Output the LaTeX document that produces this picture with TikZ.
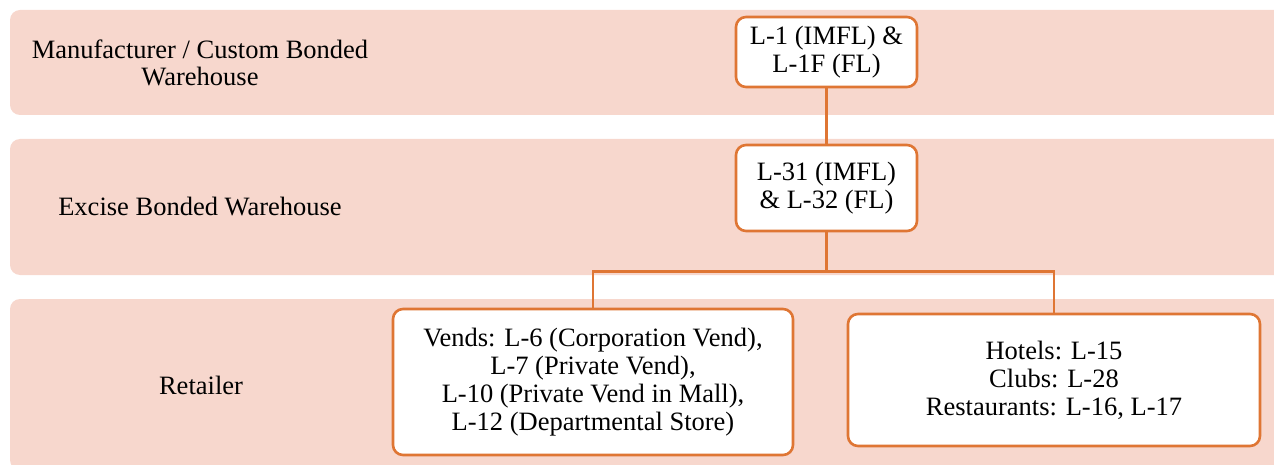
\documentclass[tikz,border=0pt]{standalone}
\usepackage{fontspec}
\setmainfont{Liberation Serif}
\definecolor{bandfill}{HTML}{F7D7CD}
\definecolor{boxline}{HTML}{DF7634}
\begin{document}
\begin{tikzpicture}[x=1pt,y=-1pt,
  band/.style={fill=bandfill,rounded corners=10pt},
  lbl/.style={align=center,font=\fontsize{26.5}{27}\selectfont,inner sep=0pt},
  lic/.style={draw=boxline,line width=2.6pt,fill=white,rounded corners=10pt,align=center,
    font=\fontsize{26.5}{28}\selectfont,inner sep=0pt},
  conn/.style={draw=boxline,line width=2.6pt}]
\useasboundingbox (0,0) rectangle (1274,465);
\fill[band] (10,10) rectangle (1290,115);
\fill[band] (10,139) rectangle (1290,275);
\fill[band] (10,299) rectangle (1290,470);
\node[lbl] (t1) at (200,63) {Manufacturer / Custom Bonded\\Warehouse};
\node[lbl] (t2) at (200,207) {Excise Bonded Warehouse};
\node[lbl] (t3) at (201,385) {Retailer};
\node[lic,minimum width=181pt,minimum height=70pt] (b1) at (826.5,52) {L-1 (IMFL) \&\\L-1F (FL)};
\node[lic,minimum width=181pt,minimum height=86pt] (b2) at (826.5,188) {L-31 (IMFL)\\\& L-32 (FL)};
\node[lic,minimum width=400pt,minimum height=146pt] (b3) at (593,382) {Vends: L-6 (Corporation Vend),\\L-7 (Private Vend),\\L-10 (Private Vend in Mall),\\L-12 (Departmental Store)};
\node[lic,minimum width=412pt,minimum height=132pt] (b4) at (1054,380) {Hotels: L-15\\Clubs: L-28\\Restaurants: L-16, L-17};
\coordinate (j) at (826.5,271.5);
\draw[conn] (b1.south) -- (b2.north);
\draw[conn] (b2.south) -- (j) -| (b3.north);
\draw[conn] (j) -| (b4.north);
\end{tikzpicture}
\end{document}
